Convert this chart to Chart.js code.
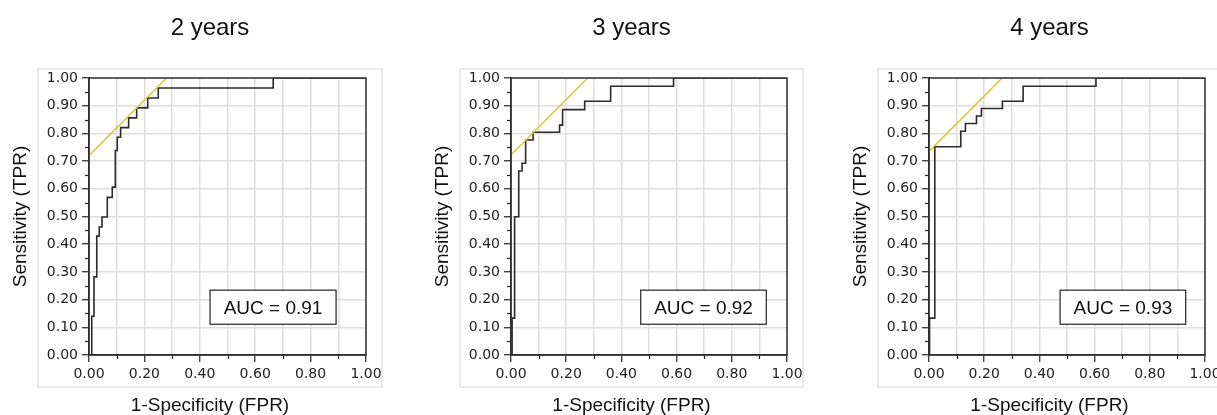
<!DOCTYPE html>
<html>
<head>
<meta charset="utf-8">
<script src="https://cdn.jsdelivr.net/npm/chart.js@4.4.1/dist/chart.umd.min.js"></script>
<style>
  html, body { margin: 0; padding: 0; background: #fff; overflow: hidden; width: 1217px; height: 415px; }
  canvas { position: absolute; top: 0; }
</style>
</head>
<body>
<canvas id="roc2" width="400" height="415" style="left:0px"></canvas>
<canvas id="roc3" width="400" height="415" style="left:422px"></canvas>
<canvas id="roc4" width="400" height="415" style="left:840px"></canvas>
<script>
// values
const panelTitles = ["2 years", "3 years", "4 years"];
const aucLabels = ["AUC = 0.91", "AUC = 0.92", "AUC = 0.93"];

const fpr2y = [0, 0.010, 0.018, 0.028, 0.037, 0.047, 0.066, 0.084, 0.095, 0.102, 0.114, 0.143, 0.172, 0.212, 0.250, 0.665, 1.0];
const tpr2y = [0, 0.140, 0.282, 0.429, 0.462, 0.498, 0.569, 0.606, 0.738, 0.786, 0.821, 0.856, 0.892, 0.928, 0.964, 1.0, 1.0];

const fpr3y = [0, 0.004, 0.013, 0.028, 0.040, 0.053, 0.080, 0.176, 0.187, 0.267, 0.361, 0.589, 1.0];
const tpr3y = [0, 0.133, 0.499, 0.664, 0.692, 0.776, 0.804, 0.830, 0.886, 0.916, 0.970, 1.0, 1.0];

const fpr4y = [0, 0.002, 0.021, 0.115, 0.132, 0.172, 0.190, 0.266, 0.341, 0.605, 1.0];
const tpr4y = [0, 0.133, 0.752, 0.808, 0.836, 0.863, 0.890, 0.916, 0.970, 1.0, 1.0];

// tangent (cut-off) lines
const cutFpr2y = [0, 0.280];
const cutTpr2y = [0.720, 1.0];
const cutFpr3y = [0, 0.278];
const cutTpr3y = [0.722, 1.0];
const cutFpr4y = [0, 0.265];
const cutTpr4y = [0.735, 1.0];

const yMinorTicks = [0.05, 0.15, 0.25, 0.35, 0.45, 0.55, 0.65, 0.75, 0.85, 0.95];
const xMinorTicks = [0.1, 0.3, 0.5, 0.7, 0.9];

// layout
const aucBoxLeft = [0.437, 0.470, 0.475];
const aucBoxWidth = 0.455;
const aucBoxTop = 0.234;
const aucBoxBottom = 0.111;

const sans = "'Liberation Sans', Arial, sans-serif";
const tickFont = "'DejaVu Sans', Verdana, sans-serif";

function points(xs, ys) {
  return xs.map((x, i) => ({ x, y: ys[i] }));
}

function decor(index) {
  return {
    id: "rocDecor",
    beforeDraw(chart) {
      const { ctx, chartArea: a } = chart;
      ctx.save();
      ctx.fillStyle = "#fff";
      ctx.fillRect(0, 0, chart.width, chart.height);
      ctx.strokeStyle = "#e4e4e4";
      ctx.lineWidth = 1.5;
      ctx.strokeRect(a.left - 51, 69, a.right - a.left + 67, 318);
      ctx.restore();
    },
    afterDraw(chart) {
      const { ctx, chartArea: a, scales } = chart;
      const x = scales.x, y = scales.y;
      ctx.save();
      ctx.strokeStyle = "#222";
      ctx.lineWidth = 1.2;
      yMinorTicks.forEach((v) => {
        const py = Math.round(y.getPixelForValue(v)) + 0.5;
        ctx.beginPath(); ctx.moveTo(a.left - 4, py); ctx.lineTo(a.left, py); ctx.stroke();
      });
      xMinorTicks.forEach((v) => {
        const px = Math.round(x.getPixelForValue(v)) + 0.5;
        ctx.beginPath(); ctx.moveTo(px, a.bottom); ctx.lineTo(px, a.bottom + 4); ctx.stroke();
      });

      ctx.strokeStyle = "#333";
      ctx.lineWidth = 1.5;
      ctx.strokeRect(a.left, a.top, a.right - a.left, a.bottom - a.top);

      // AUC box
      const bx0 = x.getPixelForValue(aucBoxLeft[index]);
      const bx1 = x.getPixelForValue(aucBoxLeft[index] + aucBoxWidth);
      const by0 = y.getPixelForValue(aucBoxTop);
      const by1 = y.getPixelForValue(aucBoxBottom);
      ctx.fillStyle = "#fff";
      ctx.fillRect(bx0, by0, bx1 - bx0, by1 - by0);
      ctx.strokeStyle = "#333";
      ctx.lineWidth = 1.3;
      ctx.strokeRect(bx0, by0, bx1 - bx0, by1 - by0);
      ctx.fillStyle = "#111";
      ctx.font = "19px " + sans;
      ctx.textAlign = "center";
      ctx.textBaseline = "alphabetic";
      ctx.fillText(aucLabels[index], (bx0 + bx1) / 2, (by0 + by1) / 2 + 7);

      // titles
      const cx = (a.left - 51 + a.right + 16) / 2;
      ctx.font = "24px " + sans;
      ctx.fillText(panelTitles[index], cx, 35);
      ctx.font = "19px " + sans;
      ctx.fillText("1-Specificity (FPR)", cx, 411);

      ctx.translate(a.left - 68, (a.top + a.bottom) / 2);
      ctx.rotate(-Math.PI / 2);
      ctx.textBaseline = "middle";
      ctx.fillText("Sensitivity (TPR)", 0, 0);
      ctx.restore();
    },
  };
}

function makeChart(id, index, fpr, tpr, cutFpr, cutTpr) {
  return new Chart(document.getElementById(id), {
    type: "scatter",
    data: {
      datasets: [
        {
          data: points(fpr, tpr),
          showLine: true,
          stepped: "before",
          borderColor: "#2b2b2b",
          borderWidth: 1.6,
          pointRadius: 0,
          order: 2,
        },
        {
          data: points(cutFpr, cutTpr),
          showLine: true,
          borderColor: "#d9c832",
          borderWidth: 1.5,
          pointRadius: 0,
          order: 1,
        },
      ],
    },
    options: {
      responsive: false,
      animation: false,
      devicePixelRatio: 1,
      layout: { padding: { top: 78, right: 35 - (index === 0 ? 1 : 0), left: 0, bottom: 0 } },
      plugins: { legend: { display: false }, tooltip: { enabled: false } },
      scales: {
        x: {
          type: "linear",
          min: 0,
          max: 1,
          afterFit: (scale) => { scale.height = 60; },
          border: { display: true, color: "#222", width: 1.5 },
          grid: {
            color: "#dedede",
            lineWidth: 1.5,
            tickLength: 7,
            tickWidth: 1.2,
            tickColor: (c) => (c.tick && Math.round(c.tick.value * 10) % 2 === 0 ? "#222" : "rgba(0,0,0,0)"),
          },
          ticks: {
            stepSize: 0.1,
            padding: 4,
            maxRotation: 0,
            autoSkip: false,
            color: "#222",
            font: { family: tickFont, size: 14 },
            callback: (v) => (Math.round(v * 10) % 2 === 0 ? Number(v).toFixed(2) : ""),
          },
        },
        y: {
          type: "linear",
          min: 0,
          max: 1,
          afterFit: (scale) => { scale.width = 89; },
          border: { display: true, color: "#222", width: 1.5 },
          grid: {
            color: "#dedede",
            lineWidth: 1.5,
            tickLength: 7,
            tickWidth: 1.2,
            tickColor: "#222",
          },
          ticks: {
            stepSize: 0.1,
            padding: 4,
            autoSkip: false,
            color: "#222",
            font: { family: tickFont, size: 14 },
            callback: (v) => Number(v).toFixed(2),
          },
        },
      },
    },
    plugins: [decor(index)],
  });
}

makeChart("roc2", 0, fpr2y, tpr2y, cutFpr2y, cutTpr2y);
makeChart("roc3", 1, fpr3y, tpr3y, cutFpr3y, cutTpr3y);
makeChart("roc4", 2, fpr4y, tpr4y, cutFpr4y, cutTpr4y);
</script>
</body>
</html>
